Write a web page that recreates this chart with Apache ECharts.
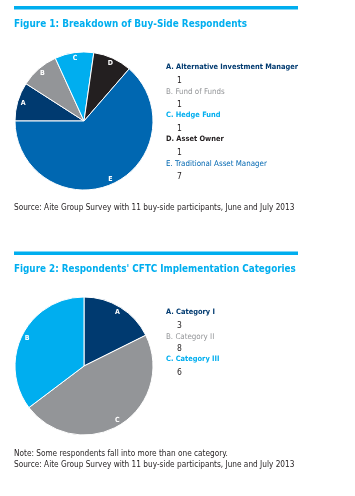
<!DOCTYPE html>
<html><head><meta charset="utf-8">
<script src="https://cdn.jsdelivr.net/npm/echarts@6/dist/echarts.min.js"></script>
<style>html,body{margin:0;padding:0;background:#fff}#c{width:355px;height:496px}</style>
</head><body><div id="c"></div>
<script>
// Figure 1 data
const fig1Title = 'Figure 1: Breakdown of Buy-Side Respondents';
const fig1Letters = ['A', 'B', 'C', 'D', 'E'];
const fig1Categories = ['Alternative Investment Manager', 'Fund of Funds', 'Hedge Fund', 'Asset Owner', 'Traditional Asset Manager'];
const fig1Values = [1, 1, 1, 1, 7];
const fig1Source = 'Source: Aite Group Survey with 11 buy-side participants, June and July 2013';
// Figure 2 data
const fig2Title = "Figure 2: Respondents' CFTC Implementation Categories";
const fig2Letters = ['A', 'B', 'C'];
const fig2Categories = ['Category I', 'Category II', 'Category III'];
const fig2Values = [3, 8, 6];
const fig2SliceLabels = ['A', 'C', 'B'];
const fig2Note = 'Note: Some respondents fall into more than one category.';
const fig2Source = 'Source: Aite Group Survey with 11 buy-side participants, June and July 2013';

const FONT = '"Liberation Sans Narrow", "DejaVu Sans Condensed", Roboto, sans-serif';
const fig1Colors = ['#003a70', '#939598', '#00aeef', '#231f20', '#0067b1'];
const fig1Weights = ['bold', 'normal', 'bold', 'bold', 'normal'];
const fig2Colors = ['#003a70', '#939598', '#00aeef'];
const fig2Weights = ['bold', 'normal', 'bold'];

const chart = echarts.init(document.getElementById('c'), null, {renderer: 'canvas'});

function legendGraphics(letters, cats, vals, colors, weights, x, y0, step) {
  const g = [];
  cats.forEach((c, i) => {
    const fs = weights[i] === 'bold' ? 7.4 : 7.9;
    g.push({type: 'text', left: x, top: y0 + i * step, style: {text: letters[i] + '. ' + c, fill: colors[i], font: weights[i] + ' ' + fs + 'px ' + FONT}});
    g.push({type: 'text', left: x + 11, top: y0 + i * step + 12, style: {text: String(vals[i]), fill: '#231f20', font: 'normal 8.5px ' + FONT}});
  });
  return g;
}

const graphics = [
  {type: 'rect', shape: {x: 14, y: 6, width: 284, height: 3.5}, style: {fill: '#00aeef'}},
  {type: 'text', left: 14, top: 19.5, style: {text: fig1Title, fill: '#00aeef', font: 'bold 9.9px ' + FONT}},
  {type: 'text', left: 14, top: 204, style: {text: fig1Source, fill: '#231f20', font: 'normal 8.2px ' + FONT}},
  {type: 'rect', shape: {x: 14, y: 251.5, width: 284, height: 3.5}, style: {fill: '#00aeef'}},
  {type: 'text', left: 14, top: 264.5, style: {text: fig2Title, fill: '#00aeef', font: 'bold 9.8px ' + FONT}},
  {type: 'text', left: 14, top: 450, style: {text: fig2Note, fill: '#231f20', font: 'normal 8.2px ' + FONT}},
  {type: 'text', left: 14, top: 461, style: {text: fig2Source, fill: '#231f20', font: 'normal 8.2px ' + FONT}}
].concat(
  legendGraphics(fig1Letters, fig1Categories, fig1Values, fig1Colors, fig1Weights, 166, 64, 24),
  legendGraphics(fig2Letters, fig2Categories, fig2Values, fig2Colors, fig2Weights, 166, 309, 23.5)
);

const labelStyle = {show: true, position: 'inside', color: '#fff', fontWeight: 'bold', fontSize: 7, fontFamily: FONT};

chart.setOption({
  animation: false,
  graphic: graphics,
  series: [
    {type: 'pie', center: [84, 121], radius: [0, 69], startAngle: 180, clockwise: true, silent: true,
     label: {show: false}, labelLine: {show: false},
     itemStyle: {borderColor: '#fff', borderWidth: 1},
     data: fig1Categories.map((c, i) => ({name: c, value: fig1Values[i], itemStyle: {color: fig1Colors[i]}}))},
    {type: 'pie', center: [84, 121], radius: [52, 69], startAngle: 180, clockwise: true, silent: true,
     itemStyle: {color: 'rgba(0,0,0,0)'}, labelLine: {show: false},
     label: Object.assign({}, labelStyle, {formatter: p => fig1Letters[p.dataIndex]}),
     data: fig1Categories.map((c, i) => ({name: c, value: fig1Values[i]}))},
    {type: 'pie', center: [84, 366], radius: [0, 69], startAngle: 90, clockwise: true, silent: true,
     label: {show: false}, labelLine: {show: false},
     itemStyle: {borderColor: '#fff', borderWidth: 1},
     data: fig2Categories.map((c, i) => ({name: c, value: fig2Values[i], itemStyle: {color: fig2Colors[i]}}))},
    {type: 'pie', center: [84, 366], radius: [52, 69], startAngle: 90, clockwise: true, silent: true,
     itemStyle: {color: 'rgba(0,0,0,0)'}, labelLine: {show: false},
     label: Object.assign({}, labelStyle, {formatter: p => fig2SliceLabels[p.dataIndex]}),
     data: fig2Categories.map((c, i) => ({name: c, value: fig2Values[i]}))}
  ]
});
</script></body></html>
